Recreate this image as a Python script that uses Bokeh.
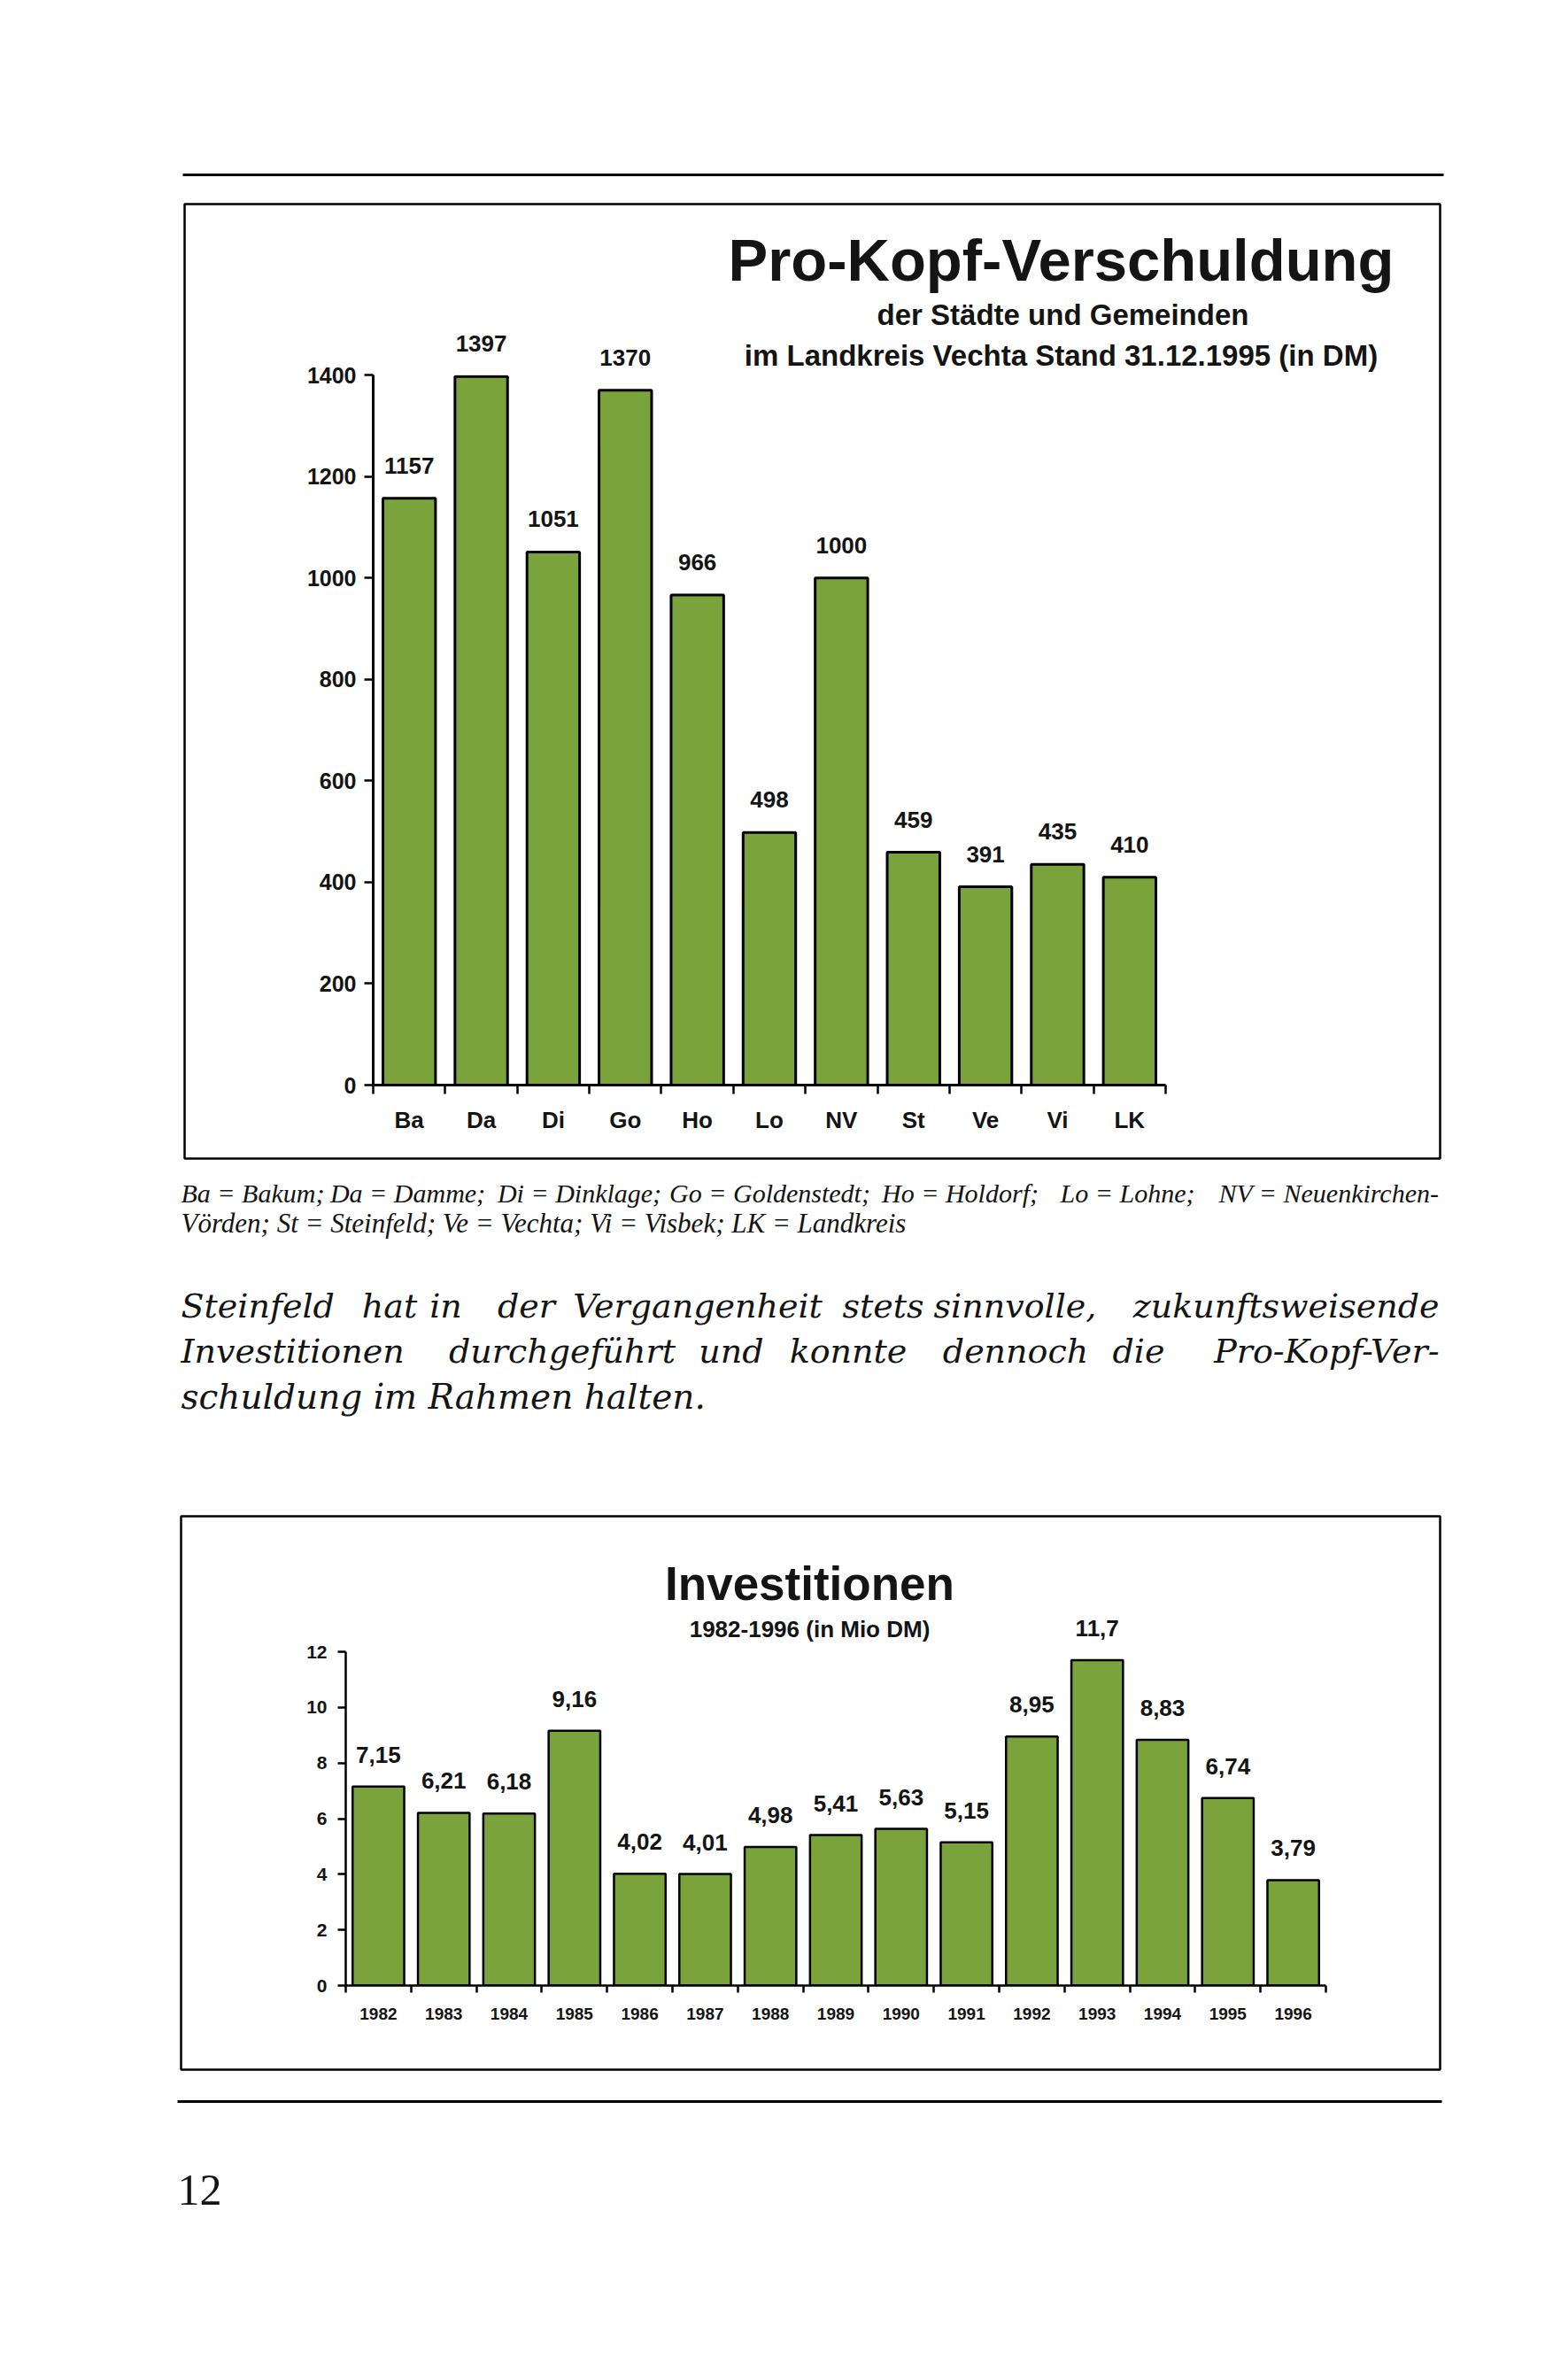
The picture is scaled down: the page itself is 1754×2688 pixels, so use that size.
from bokeh.plotting import figure
from bokeh.models import Range1d, FixedTicker, ColumnDataSource, LabelSet
from bokeh.core.properties import value
from bokeh.embed import file_html
from bokeh.resources import INLINE

# ---------------- data ----------------
gemeinden = ["Ba", "Da", "Di", "Go", "Ho", "Lo", "NV", "St", "Ve", "Vi", "LK"]
schulden_dm = [1157, 1397, 1051, 1370, 966, 498, 1000, 459, 391, 435, 410]
y1_ticks = [0, 200, 400, 600, 800, 1000, 1200, 1400]

jahre = ["1982", "1983", "1984", "1985", "1986", "1987", "1988", "1989",
         "1990", "1991", "1992", "1993", "1994", "1995", "1996"]
investitionen = [7.15, 6.21, 6.18, 9.16, 4.02, 4.01, 4.98, 5.41,
                 5.63, 5.15, 8.95, 11.7, 8.83, 6.74, 3.79]
y2_ticks = [0, 2, 4, 6, 8, 10, 12]

title1 = "Pro-Kopf-Verschuldung"
sub1a = "der Städte und Gemeinden"
sub1b = "im Landkreis Vechta Stand 31.12.1995 (in DM)"
title2 = "Investitionen"
sub2 = "1982-1996 (in Mio DM)"

fn_line1 = [("Ba = Bakum;", 204, "left"), ("Da = Damme;", 460, "center"), ("Di = Dinklage;", 654, "center"),
            ("Go = Goldenstedt;", 869, "center"), ("Ho = Holdorf;", 1084, "center"),
            ("Lo = Lohne;", 1273, "center"), ("NV = Neuenkirchen-", 1625, "right")]
fn_line2 = [("Vörden; St = Steinfeld; Ve = Vechta; Vi = Visbek; LK = Landkreis", 204, "left")]

para_l1 = [("Steinfeld", 204, "left"), ("hat", 439.5, "center"), ("in", 503, "center"), ("der", 594, "center"),
           ("Vergangenheit", 787.5, "center"), ("stets", 997, "center"), ("sinnvolle,", 1146, "center"),
           ("zukunftsweisende", 1625, "right")]
para_l2 = [("Investitionen", 204, "left"), ("durchgeführt", 634.5, "center"), ("und", 825.5, "center"),
           ("konnte", 957.5, "center"), ("dennoch", 1146.5, "center"), ("die", 1285.5, "center"),
           ("Pro-Kopf-Ver-", 1625, "right")]
para_l3 = [("schuldung im Rahmen halten.", 204, "left")]

GREEN = "#7AA43B"
INK = "#141414"
SANS = "Liberation Sans"
BG_W, BG_H = 1740, 2600

# ---------------- geometry (page pixels) ----------------
F1L, F1R, F1T, F1B = 421, 1316, 423, 1225      # chart 1 plot area
F2L, F2R, F2T, F2B = 390, 1497, 1865, 2242     # chart 2 plot area
k1x = (F1R - F1L) / len(gemeinden)
k1y = (F1B - F1T) / y1_ticks[-1]
k2x = (F2R - F2L) / len(jahre)
k2y = (F2B - F2T) / y2_ticks[-1]

# ---------------- page background figure ----------------
bg = figure(width=BG_W, height=BG_H, x_range=Range1d(0, BG_W), y_range=Range1d(BG_H, 0),
            toolbar_location=None, output_backend="svg", title=None,
            x_axis_location=None, y_axis_location=None,
            min_border_left=0, min_border_right=0, min_border_top=0, min_border_bottom=0)
bg.grid.visible = False
bg.outline_line_color = None
bg.background_fill_color = "white"
bg.border_fill_color = "white"
# ranges that reproduce the two charts' data scales on the page
bg.extra_x_ranges = {
    "c1x": Range1d((0 - F1L) / k1x, (BG_W - F1L) / k1x),
    "c2x": Range1d((0 - F2L) / k2x, (BG_W - F2L) / k2x),
}
bg.extra_y_ranges = {
    "c1y": Range1d((F1B - BG_H) / k1y, F1B / k1y),
    "c2y": Range1d((F2B - BG_H) / k2y, F2B / k2y),
}

# rules and boxes
bg.quad(left=[206, 200], right=[1630, 1628], top=[195.5, 2371.5], bottom=[198.5, 2374.5],
        fill_color="black", line_color=None)
bg.quad(left=[208, 204], right=[1626, 1626], top=[230, 1712], bottom=[1308, 2337],
        fill_color=None, line_color="black", line_width=2.5)


def put_text(x, y, txt, size, font=SANS, style="bold", align="center"):
    bg.text(x=x, y=y, text=txt, text_align=align, text_baseline="alphabetic",
            text_font=value(font), text_font_style=style, text_font_size=size, text_color=INK)


# chart titles
put_text([1198], [293], [title1], "67px")
put_text([1200], [355], [sub1a], "33px")
put_text([1198], [401], [sub1b], "33px")
put_text([914], [1788], [title2], "53px")
put_text([914], [1839], [sub2], "26px")


def put_line(items, base, size, font, style):
    for align in ("left", "center", "right"):
        sel = [(w, x) for w, x, a in items if a == align]
        if sel:
            put_text([x for _, x in sel], [base] * len(sel), [w for w, _ in sel], size,
                     font=font, style=style, align=align)


# footnote
put_line(fn_line1, 1347, "30px", "Liberation Serif", "italic")
put_line(fn_line2, 1381, "31px", "Liberation Serif", "italic")

# paragraph
put_line(para_l1, 1474, "38px", "DejaVu Serif", "italic")
put_line(para_l2, 1525, "38px", "DejaVu Serif", "italic")
put_line(para_l3, 1577, "39px", "DejaVu Serif", "italic")

# page number
put_text([200], [2473], ["12"], "50px", font="Liberation Serif", style="normal", align="left")

# value labels, placed with the charts' data scales
src1 = ColumnDataSource(dict(x=[i + 0.5 for i in range(len(gemeinden))], top=schulden_dm,
                             label=[str(v) for v in schulden_dm]))
src2 = ColumnDataSource(dict(x=[i + 0.5 for i in range(len(jahre))], top=investitionen,
                             label=[f"{v:g}".replace(".", ",") for v in investitionen]))
bg.add_layout(LabelSet(x="x", y="top", text="label", source=src1, x_range_name="c1x", y_range_name="c1y",
                       y_offset=28, text_align="center", text_baseline="alphabetic",
                       text_font=value(SANS), text_font_style="bold", text_font_size="26px", text_color=INK))
bg.add_layout(LabelSet(x="x", y="top", text="label", source=src2, x_range_name="c2x", y_range_name="c2y",
                       y_offset=27, text_align="center", text_baseline="alphabetic",
                       text_font=value(SANS), text_font_style="bold", text_font_size="26px", text_color=INK))


# ---------------- chart figures (overlaid on the page) ----------------
def chart(categories, source, ticks, frame, borders, bar_w, bar_lw, axis_lw,
          ytick_out, ystand, yfont, xtick_out, xstand, xfont):
    L, R, T, B = frame
    bl, br, bt, bb = borders
    p = figure(width=bl + (R - L) + br, height=bt + (B - T) + bb,
               x_range=Range1d(0, len(categories)), y_range=Range1d(ticks[0], ticks[-1]),
               toolbar_location=None, output_backend="svg", title=None,
               min_border_left=bl, min_border_right=br, min_border_top=bt, min_border_bottom=bb)
    p.grid.visible = False
    p.outline_line_color = None
    p.background_fill_color = None
    p.border_fill_color = None
    p.styles = {"position": "absolute", "left": f"{L - bl}px", "top": f"{T - bt}px"}
    p.vbar(x="x", top="top", bottom=0, width=bar_w, source=source,
           fill_color=GREEN, line_color="black", line_width=bar_lw)

    ya = p.yaxis[0]
    ya.ticker = FixedTicker(ticks=ticks, minor_ticks=[])
    ya.minor_tick_line_color = None
    ya.major_tick_out = ytick_out
    ya.major_tick_in = 0
    ya.major_tick_line_width = 2.5
    ya.axis_line_width = axis_lw
    ya.major_label_standoff = ystand
    ya.major_label_text_font = SANS
    ya.major_label_text_font_style = "bold"
    ya.major_label_text_font_size = yfont
    ya.major_label_text_color = INK

    xa = p.xaxis[0]
    xa.ticker = FixedTicker(ticks=[i + 0.5 for i in range(len(categories))],
                            minor_ticks=list(range(len(categories) + 1)))
    xa.major_label_overrides = {i + 0.5: c for i, c in enumerate(categories)}
    xa.major_tick_line_color = None
    xa.major_tick_out = 0
    xa.major_tick_in = 0
    xa.minor_tick_out = xtick_out
    xa.minor_tick_in = 0
    xa.minor_tick_line_width = 2.5
    xa.axis_line_width = axis_lw
    xa.major_label_standoff = xstand
    xa.major_label_text_font = SANS
    xa.major_label_text_font_style = "bold"
    xa.major_label_text_font_size = xfont
    xa.major_label_text_color = INK
    return p


p1 = chart(gemeinden, src1, y1_ticks, (F1L, F1R, F1T, F1B), (100, 10, 30, 70), 0.73, 3, 3,
           10, 9, "25px", 10, 14, "26px")
p2 = chart(jahre, src2, y2_ticks, (F2L, F2R, F2T, F2B), (80, 10, 30, 60), 0.79, 2.5, 2.5,
           9, 12, "21px", 8, 17, "19px")

open("out.html", "w").write(file_html([bg, p1, p2], INLINE))
